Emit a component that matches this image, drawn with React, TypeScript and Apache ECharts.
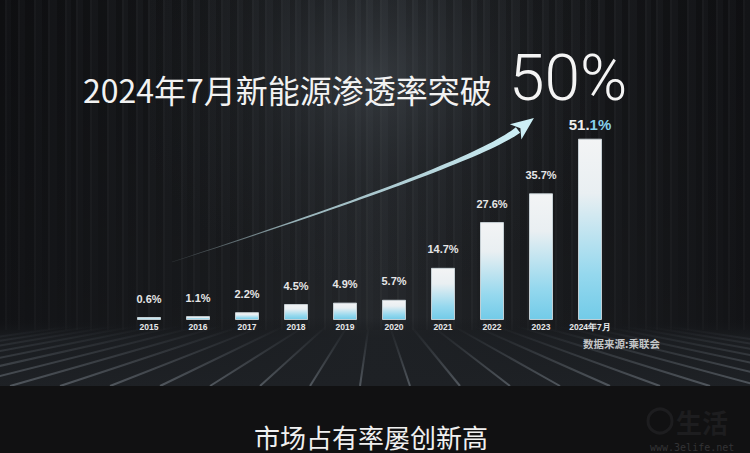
import React, { useEffect, useRef } from "react";
import * as echarts from "echarts";

const categories = ["2015", "2016", "2017", "2018", "2019", "2020", "2021", "2022", "2023", "2024年7月"];
const shares = [0.6, 1.1, 2.2, 4.5, 4.9, 5.7, 14.7, 27.6, 35.7, 51.1];
const titleText = "2024年7月新能源渗透率突破";
const headline = "50%";
const subtitle = "市场占有率屡创新高";
const sourceText = "数据来源:乘联会";
const watermark = "www.3elife.net";

function buildArrow() {
  const P0 = [172, 262];
  const P1 = [472, 165];
  const P2 = [518, 130];
  const n = 40;
  const top: number[][] = [];
  const bot: number[][] = [];
  for (let i = 0; i <= n; i++) {
    const t = i / n;
    const a = (1 - t) * (1 - t), b = 2 * (1 - t) * t, c = t * t;
    const x = a * P0[0] + b * P1[0] + c * P2[0];
    const y = a * P0[1] + b * P1[1] + c * P2[1];
    const dx = 2 * (1 - t) * (P1[0] - P0[0]) + 2 * t * (P2[0] - P1[0]);
    const dy = 2 * (1 - t) * (P1[1] - P0[1]) + 2 * t * (P2[1] - P1[1]);
    const len = Math.hypot(dx, dy);
    const nx = -dy / len, ny = dx / len;
    const w = 0.3 + 3.2 * Math.pow(t, 1.3);
    top.push([x + nx * w, y + ny * w]);
    bot.push([x - nx * w, y - ny * w]);
  }
  const shaft = top.concat(bot.reverse());
  const dx = P2[0] - P1[0], dy = P2[1] - P1[1];
  const l = Math.hypot(dx, dy);
  const ux = dx / l, uy = dy / l;
  const px = -uy, py = ux;
  const tip = [P2[0] + ux * 20, P2[1] + uy * 20];
  const b1 = [P2[0] + px * 9.5 - ux * 3, P2[1] + py * 9.5 - uy * 3];
  const b2 = [P2[0] - px * 9.5 - ux * 3, P2[1] - py * 9.5 - uy * 3];
  const notch = [P2[0] + ux * 3, P2[1] + uy * 3];
  return { shaft, head: [tip, b1, notch, b2] };
}

export default function App() {
  const ref = useRef<HTMLDivElement>(null);
  useEffect(() => {
    if (!ref.current) return;
    const chart = echarts.init(ref.current, null, { renderer: "svg" });
    const W = 750, H = 453;
    const graphics: any[] = [];
    graphics.push({
      type: "rect", z: -10, shape: { x: 0, y: 0, width: W, height: 386 },
      style: {
        fill: new echarts.graphic.LinearGradient(0, 0, 1, 0, [
          { offset: 0, color: "#121316" },
          { offset: 0.3, color: "#1a1c1f" },
          { offset: 0.5, color: "#26292d" },
          { offset: 0.7, color: "#1b1d20" },
          { offset: 1, color: "#131417" },
        ]),
      },
      silent: true,
    });
    for (let x = 0, k = 0; x < W; k++) {
      const w = 5 + ((k * 7) % 5);
      graphics.push({
        type: "rect", z: -9, silent: true,
        shape: { x, y: 0, width: w, height: 330 },
        style: {
          fill: new echarts.graphic.LinearGradient(0, 0, 0, 1, [
            { offset: 0, color: "rgba(0,0,0,0.24)" },
            { offset: 1, color: "rgba(0,0,0,0.05)" },
          ]),
        },
      });
      graphics.push({
        type: "rect", z: -9, silent: true,
        shape: { x: x + w, y: 0, width: 2, height: 330 },
        style: { fill: "rgba(255,255,255,0.025)" },
      });
      x += w + 6 + ((k * 5) % 4);
    }
    graphics.push({
      type: "rect", z: -8, silent: true,
      shape: { x: 150, y: 0, width: 450, height: 386 },
      style: {
        fill: new echarts.graphic.RadialGradient(0.5, 0.2, 0.55, [
          { offset: 0, color: "rgba(70,76,82,0.55)" },
          { offset: 0.5, color: "rgba(50,55,60,0.2)" },
          { offset: 1, color: "rgba(40,44,48,0)" },
        ]),
      },
    });
    graphics.push({
      type: "rect", z: -7, silent: true,
      shape: { x: 0, y: 318, width: W, height: 68 },
      style: {
        fill: new echarts.graphic.LinearGradient(0, 0, 0, 1, [
          { offset: 0, color: "rgba(20,22,25,0)" },
          { offset: 0.3, color: "rgba(28,31,35,0.8)" },
          { offset: 1, color: "rgba(30,33,37,1)" },
        ]),
      },
    });
    const vx = 375, vy = 282;
    for (let xb = -340; xb <= 1090; xb += 50) {
      const y0 = 326;
      const x0 = vx + ((xb - vx) * (y0 - vy)) / (386 - vy);
      graphics.push({
        type: "line", z: -6, silent: true,
        shape: { x1: x0, y1: y0, x2: xb, y2: 386 },
        style: {
          stroke: new echarts.graphic.LinearGradient(0, 0, 0, 1, [
            { offset: 0, color: "rgba(140,150,160,0)" },
            { offset: 1, color: "rgba(150,160,170,0.42)" },
          ]),
          lineWidth: 2,
        },
      });
    }
    graphics.push({
      type: "rect", z: -5, silent: true,
      shape: { x: 0, y: 386, width: W, height: H - 386 },
      style: { fill: "#111112" },
    });
    graphics.push({
      type: "circle", z: -4, silent: true,
      shape: { cx: 660, cy: 421, r: 12 },
      style: { fill: "none", stroke: "#1d1d1f", lineWidth: 3 },
    });
    graphics.push({
      type: "text", z: -4, silent: true, x: 676, y: 421,
      style: { text: "生活", fill: "#1d1d1f", fontSize: 26, fontWeight: "bold", fontFamily: "Noto Sans CJK SC", verticalAlign: "middle" },
    });
    graphics.push({
      type: "text", z: -4, silent: true, x: 650, y: 447,
      style: { text: watermark, fill: "#333335", fontSize: 10, fontFamily: "DejaVu Sans Mono", verticalAlign: "middle" },
    });
    const arrow = buildArrow();
    const arrowFill = new echarts.graphic.LinearGradient(0, 0, 1, 0, [
      { offset: 0, color: "rgba(160,180,185,0.15)" },
      { offset: 0.35, color: "rgba(190,225,232,0.75)" },
      { offset: 1, color: "#cdeff6" },
    ]);
    graphics.push({ type: "polygon", z: 5, silent: true, shape: { points: arrow.shaft }, style: { fill: arrowFill } });
    graphics.push({ type: "polygon", z: 5, silent: true, shape: { points: arrow.head }, style: { fill: "#cdeff6" } });
    graphics.push({
      type: "text", z: 10, silent: true, x: 83, y: 89,
      style: { text: titleText, fill: "#f2f2f2", fontSize: 32, fontFamily: "Noto Sans CJK SC", verticalAlign: "middle" },
    });
    graphics.push({
      type: "text", z: 10, silent: true, x: 509, y: 78,
      style: { text: headline, fill: "#f4f4f4", fontSize: 64, lineHeight: 46, fontWeight: 300, fontFamily: "Roboto", verticalAlign: "middle" },
    });
    graphics.push({
      type: "text", z: 10, silent: true, x: 371, y: 436,
      style: { text: subtitle, fill: "#f0f0f0", fontSize: 26, fontFamily: "Noto Sans CJK SC", align: "center", verticalAlign: "middle" },
    });
    graphics.push({
      type: "text", z: 10, silent: true, x: 583, y: 343,
      style: { text: sourceText, fill: "#c4c6c8", fontSize: 10.5, fontWeight: "bold", fontFamily: "Noto Sans CJK SC", verticalAlign: "middle" },
    });

    const last = shares.length - 1;
    const barFill = new echarts.graphic.LinearGradient(0, 0, 0, 1, [
      { offset: 0, color: "#f3f4f5" },
      { offset: 0.3, color: "#e9eff2" },
      { offset: 0.75, color: "#95d8ee" },
      { offset: 1, color: "#72cbe8" },
    ]);
    chart.setOption({
      animation: false,
      backgroundColor: "#1a1c1f",
      graphic: { elements: graphics },
      grid: { left: 124.5, right: 135.5, top: 100, bottom: 133 },
      xAxis: {
        type: "category",
        data: categories,
        axisLine: { show: false },
        axisTick: { show: false },
        axisLabel: { color: "#e6e8ea", fontSize: 8.5, fontWeight: "bold", fontFamily: "Liberation Sans", margin: 2, interval: 0 },
      },
      yAxis: { type: "value", min: 0, max: 62, show: false, splitLine: { show: false } },
      series: [
        {
          type: "bar",
          barWidth: 24,
          barMinHeight: 3,
          itemStyle: { color: barFill, borderColor: "rgba(205,215,220,0.9)", borderWidth: 1 },
          label: {
            show: true,
            position: "top",
            distance: 13,
            color: "#e6e6e6",
            fontSize: 11,
            fontWeight: "bold",
            fontFamily: "Liberation Sans",
            formatter: (p: any) => `${Number(p.value).toFixed(1)}%`,
          },
          data: shares.map((v, i) =>
            i === last
              ? {
                  value: v,
                  label: {
                    distance: 7,
                    formatter: (p: any) => {
                      const s = Number(p.value).toFixed(1);
                      return `{w|${s.slice(0, -1)}}{b|${s.slice(-1)}%}`;
                    },
                    rich: {
                      w: { color: "#eeeeee", fontSize: 15, fontWeight: "bold", fontFamily: "Liberation Sans" },
                      b: { color: "#86d0ea", fontSize: 15, fontWeight: "bold", fontFamily: "Liberation Sans" },
                    },
                  },
                }
              : v
          ),
        },
      ],
    });
    return () => chart.dispose();
  }, []);
  return <div ref={ref} style={{ width: 750, height: 453, position: "absolute", left: 0, top: 0 }} />;
}
